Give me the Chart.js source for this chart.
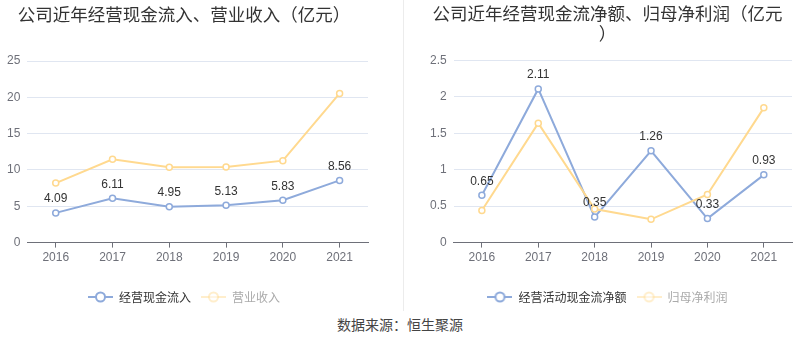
<!DOCTYPE html>
<html>
<head>
<meta charset="utf-8">
<script src="https://cdn.jsdelivr.net/npm/chart.js@4/dist/chart.umd.min.js"></script>
<style>
  html, body { margin: 0; padding: 0; background: #fff; }
  #wrap { position: relative; width: 800px; height: 358px; overflow: hidden; }
  #leftChart { position: absolute; left: 0; top: 0; }
  #rightChart { position: absolute; left: 400px; top: 0; }
  #divider { position: absolute; left: 403px; top: 0; width: 1px; height: 311px; background: #ececec; }
  #source { position: absolute; left: 0; top: 315px; width: 800px; text-align: center;
    font: 14px 'Noto Sans CJK SC', sans-serif; color: #444; line-height: 18px; }
</style>
</head>
<body>
<div id="wrap">
  <canvas id="leftChart" width="400" height="313"></canvas>
  <div id="divider"></div>
  <canvas id="rightChart" width="400" height="313"></canvas>
  <div id="source">数据来源：恒生聚源</div>
</div>
<script>
const years = ['2016', '2017', '2018', '2019', '2020', '2021'];

// left chart
const cashInflow = [4.09, 6.11, 4.95, 5.13, 5.83, 8.56];
const revenue = [8.19, 11.46, 10.36, 10.40, 11.28, 20.54];

// right chart
const netCashFlow = [0.65, 2.11, 0.35, 1.26, 0.33, 0.93];
const netProfit = [0.44, 1.64, 0.46, 0.32, 0.66, 1.85];

const BLUE = '#8EAADB';
const ORANGE = '#FFD98F';
const FONT = "'Liberation Sans', 'Noto Sans CJK SC', sans-serif";

Chart.defaults.font.family = FONT;
Chart.defaults.font.size = 12;
Chart.defaults.animation = false;

// legend icon: short line with hollow circle
const makeIcon = (color, alpha) => {
    const c = document.createElement('canvas');
    c.width = 25; c.height = 12;
    const g = c.getContext('2d');
    g.globalAlpha = alpha;
    g.strokeStyle = color;
    g.lineWidth = 2;
    g.beginPath(); g.moveTo(0, 6); g.lineTo(25, 6); g.stroke();
    g.beginPath(); g.arc(12.5, 6, 4.5, 0, Math.PI * 2);
    g.fillStyle = '#fff'; g.fill(); g.stroke();
    return c;
};

const valueLabels = {
    id: 'valueLabels',
    afterDatasetsDraw(chart) {
        const ctx = chart.ctx;
        const ds = chart.data.datasets[0];
        const meta = chart.getDatasetMeta(0);
        ctx.save();
        ctx.font = '12px ' + FONT;
        ctx.fillStyle = '#333';
        ctx.textAlign = 'center';
        ctx.textBaseline = 'middle';
        meta.data.forEach((pt, i) => {
            ctx.fillText(ds.data[i].toFixed(2), pt.x, pt.y - 14);
        });
        ctx.restore();
    }
};

const buildChart = (el, cfg) => {
    const lineDs = (label, data, color, order) => ({
        label, data, order,
        borderColor: color,
        borderWidth: 2,
        pointRadius: 3,
        pointBorderWidth: 1.5,
        pointBackgroundColor: '#fff',
        pointBorderColor: color,
        tension: 0
    });

    return new Chart(document.getElementById(el), {
        type: 'line',
        data: {
            labels: years,
            datasets: [
                lineDs(cfg.names[0], cfg.series[0], BLUE, 1),
                lineDs(cfg.names[1], cfg.series[1], ORANGE, 0)
            ]
        },
        options: {
            responsive: false,
            layout: { padding: cfg.padding },
            plugins: {
                tooltip: { enabled: false },
                title: {
                    display: true,
                    text: cfg.title,
                    color: '#333',
                    font: { size: 17.5, weight: 'normal', family: "'Noto Sans CJK SC', sans-serif", lineHeight: cfg.titleLineHeight },
                    padding: { top: 4, bottom: cfg.titleGap }
                },
                legend: {
                    position: 'bottom',
                    labels: {
                        usePointStyle: true,
                        pointStyleWidth: 25,
                        padding: 10,
                        font: { size: 12, family: "'Noto Sans CJK SC', sans-serif" },
                        generateLabels: () => [
                            { text: cfg.names[0], pointStyle: makeIcon(BLUE, 1), fontColor: '#333', datasetIndex: 0, hidden: false, lineWidth: 0 },
                            { text: cfg.names[1], pointStyle: makeIcon(ORANGE, 0.45), fontColor: '#aaa', datasetIndex: 1, hidden: false, lineWidth: 0 }
                        ]
                    }
                }
            },
            scales: {
                x: {
                    offset: true,
                    grid: { offset: false, drawOnChartArea: false, drawTicks: true, tickLength: 5, color: '#6E7079' },
                    border: { color: '#6E7079' },
                    ticks: { color: '#6E7079', padding: 3 },
                    afterFit: (scale) => { scale.height += 13; }
                },
                y: {
                    min: 0,
                    max: cfg.max,
                    border: { display: false },
                    grid: { color: '#E0E6F1', drawTicks: false },
                    ticks: {
                        stepSize: cfg.step,
                        color: '#6E7079',
                        padding: 7,
                        callback: (v) => String(+v.toFixed(1))
                    }
                }
            }
        },
        plugins: [valueLabels]
    });
};

buildChart('leftChart', {
    title: '公司近年经营现金流入、营业收入（亿元）',
    titleLineHeight: 1.2,
    titleGap: 36,
    names: ['经营现金流入', '营业收入'],
    series: [cashInflow, revenue],
    max: 25, step: 5,
    padding: { left: 0, right: 32 }
});

buildChart('rightChart', {
    title: ['公司近年经营现金流净额、归母净利润（亿元', '）'],
    titleLineHeight: 1.1,
    titleGap: 18,
    names: ['经营活动现金流净额', '归母净利润'],
    series: [netCashFlow, netProfit],
    max: 2.5, step: 0.5,
    padding: { left: 23, right: 8 }
});
</script>
</body>
</html>
